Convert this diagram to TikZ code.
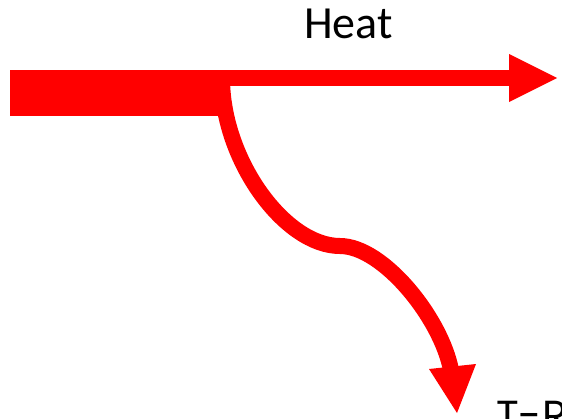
\documentclass[tikz,border=0pt]{standalone}
\usepackage{fontspec}
\setmainfont{Carlito}
\newfontfamily\trfont{Poppins}
\definecolor{flowred}{RGB}{255,0,0}
\begin{document}
\begin{tikzpicture}[x=1pt,y=-1pt,
  flow/.style={draw=flowred,line width=16pt},
  headfill/.style={fill=flowred},
  lbl/.style={inner sep=0pt,text=black}]
\useasboundingbox (0,0) rectangle (562,418);
% thick incoming band
\fill[flowred] (10,70) rectangle (224,116);
% horizontal arrow
\coordinate (hs) at (200,78);
\coordinate (hb) at (510,78);
\draw[flow] (hs) -- (hb);
\fill[flowred] (509,54) -- (557,78) -- (509,102) -- cycle;
% curved branch
\coordinate (cs) at (222,78);
\coordinate (cm) at (340,246);
\coordinate (ce) at (451,370);
\draw[flow] (cs) .. controls (222,160) and (285,246) .. (cm)
  .. controls (383,246) and (441,318) .. (ce);
\fill[flowred] (429,369) -- (476,364) -- (457,413) -- cycle;
% labels
\node[lbl,anchor=base] (heat) at (348.5,38) {\fontsize{46}{50}\selectfont Heat};
\node[lbl,anchor=base west] (tr) at (496,430) {\trfont\fontsize{42}{46}\selectfont T-R};
\end{tikzpicture}
\end{document}
